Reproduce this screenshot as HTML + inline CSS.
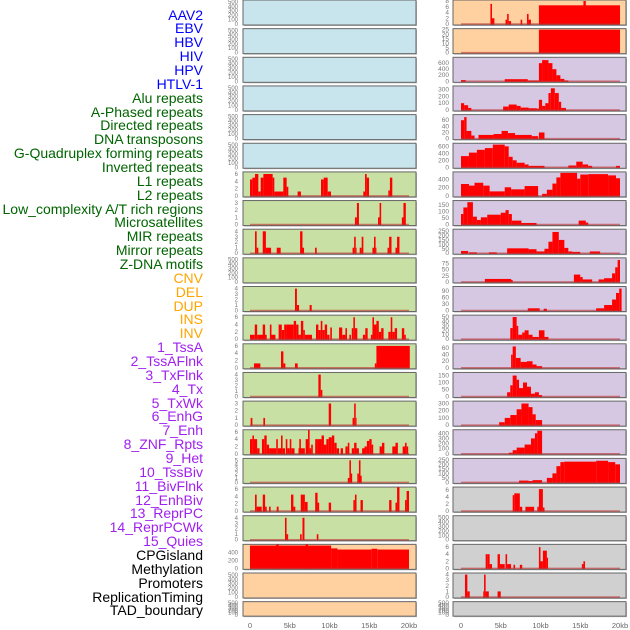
<!DOCTYPE html>
<html><head><meta charset="utf-8">
<style>
body{margin:0;background:#fff;width:630px;height:630px;overflow:hidden;font-family:"Liberation Sans",sans-serif}
#labels div{position:absolute;right:427px;font-size:14px;line-height:14px;white-space:nowrap}
</style></head>
<body>
<div id="labels"></div>
<svg id="chart" width="630" height="630" style="position:absolute;left:0;top:0"></svg>
<script>
const labelNames=["AAV2","EBV","HBV","HIV","HPV","HTLV-1","Alu repeats","A-Phased repeats","Directed repeats","DNA transposons","G-Quadruplex forming repeats","Inverted repeats","L1 repeats","L2 repeats","Low_complexity A/T rich regions","Microsatellites","MIR repeats","Mirror repeats","Z-DNA motifs","CNV","DEL","DUP","INS","INV","1_TssA","2_TssAFlnk","3_TxFlnk","4_Tx","5_TxWk","6_EnhG","7_Enh","8_ZNF_Rpts","9_Het","10_TssBiv","11_BivFlnk","12_EnhBiv","13_ReprPC","14_ReprPCWk","15_Quies","CPGisland","Methylation","Promoters","ReplicationTiming","TAD_boundary"];
const labelColors=[...Array(6).fill("#0000ff"),...Array(13).fill("#006400"),...Array(5).fill("#ffa500"),...Array(15).fill("#a020f0"),...Array(5).fill("#000")];
const xTickLabels=["0","5kb","10kb","15kb","20kb"];
const xTickValues=[0,5,10,15,20];

const leftBg=["b","b","b","b","b","b","g","g","g","g","g","g","g","g","g","g","g","g","g","o","o","o"];
const rightBg=["o","o","p","p","p","p","p","p","p","p","p","p","p","p","p","p","p","y","y","y","y","y"];
const leftYmax=[520,520,520,520,520,520,6.3,3.2,4.2,520,4.2,6.3,6.3,4.2,3.2,6.3,5.2,6.3,4.2,575,520,520];
const rightYmax=[8,25,760,340,75,660,560,175,260,95,105,52,70,165,320,450,255,6.5,520,6.5,4.1,520];
const leftTicks=[[0,100,200,300,400,500],[0,100,200,300,400,500],[0,100,200,300,400,500],[0,100,200,300,400,500],[0,100,200,300,400,500],[0,100,200,300,400,500],[0,2,4,6],[0,1,2,3],[0,1,2,3,4],[0,100,200,300,400,500],[0,1,2,3,4],[0,2,4,6],[0,2,4,6],[0,1,2,3,4],[0,1,2,3],[0,2,4,6],[0,1,2,3,4,5],[0,2,4,6],[0,1,2,3,4],[0,200,400],[0,100,200,300,400,500],[0,100,200,300,400,500]];
const rightTicks=[[0,2,4,6,8],[0,5,10,15,20,25],[0,200,400,600],[0,100,200,300],[0,20,40,60],[0,200,400,600],[0,200,400],[0,50,100,150],[0,50,100,150,200,250],[0,25,50,75],[0,30,60,90],[0,10,20,30,40,50],[0,20,40,60],[0,50,100,150],[0,100,200,300],[0,100,200,300,400],[0,50,100,150,200,250],[0,2,4,6],[0,100,200,300,400,500],[0,2,4,6],[0,1,2,3,4],[0,100,200,300,400,500]];

const leftSegs=[[],[],[],[],[],[],
[[0,0.29,4.5],[0.29,0.63,5],[0.63,1.05,6],[1.05,1.34,1.2],[1.34,1.68,5],[1.68,2.85,6],[2.85,3.06,5],[3.06,4.19,1.2],[4.19,4.61,5],[4.61,4.82,2.5],[5.99,6.41,1.2],[8.93,9.27,4.5],[9.27,9.77,5],[9.77,10.19,1.2],[14.25,14.47,1.2],[14.47,14.68,6],[14.68,14.97,5],[17.4,17.6,1.5],[17.6,17.9,5]],
[[13.2,13.45,1],[13.45,13.7,3],[16.1,16.3,1],[16.3,16.5,3],[19.1,19.3,1],[19.3,19.6,3]],
[[0.63,0.84,4],[0.84,1.05,1],[1.6,2.0,4],[2.0,2.65,1],[3.36,3.86,1],[6.3,6.6,4],[6.6,6.8,1],[8.18,8.39,1],[12.9,13.1,1],[13.1,13.3,3],[13.3,13.4,1],[13.8,14.05,1],[14.05,14.26,3],[15.4,15.6,1],[15.6,15.8,3],[15.8,15.9,1],[17.3,17.5,1],[17.5,17.8,3],[18.3,18.5,1],[18.5,18.8,3]],
[],
[[5.66,5.9,4],[5.9,6.17,1],[7.5,7.76,1]],
[[0,0.6,1.2],[0.6,0.9,4],[0.9,2.1,1.2],[1.6,1.9,4],[2.5,2.7,4],[2.7,3.2,1.2],[3.6,4.0,4],[4.0,4.3,2.5],[4.3,4.6,4],[4.6,5.5,4],[5.5,5.8,5],[5.8,6.1,4],[6.1,6.4,1.2],[6.4,6.7,5],[6.7,6.9,2.5],[6.9,7.8,1.2],[8.3,8.6,4],[8.6,8.9,2.5],[8.9,9.1,5],[9.1,9.4,2.5],[9.4,9.7,4],[9.7,10,1.2],[10.1,10.3,3.2],[11.2,11.6,3.2],[11.6,12,1.2],[12.0,12.2,3],[12.5,12.7,1.2],[12.8,13.0,3],[13.0,13.2,6],[13.2,13.5,3],[14.2,14.5,1.2],[14.5,14.8,3],[15.2,15.4,1.2],[15.4,15.6,6],[15.6,15.9,4],[15.9,16.2,5],[16.2,16.5,2],[16.5,16.8,3],[17.4,17.7,2],[17.7,17.9,6],[17.9,18.2,2],[18.2,18.5,3],[19.1,19.4,3],[19.4,19.6,1.2]],
[[0.5,1.3,1.2],[3.9,4.2,4.5],[4.2,4.45,1.2],[5.66,6.0,1.2],[15.7,15.9,1.2],[15.9,20.1,6]],
[[8.6,8.9,4],[8.9,9.1,1.2]],
[[0.08,0.3,1],[1.68,1.89,1],[9.9,10.2,3],[12.9,13.1,1],[13.1,13.3,3],[13.3,13.4,1]],
[[0,0.3,4],[0.3,0.5,5],[0.5,0.9,4],[0.9,1.2,1.5],[1.5,1.8,4],[1.8,2.1,5],[2.1,2.4,2.5],[2.4,3.3,1.5],[3.3,3.5,4],[3.5,3.9,1.5],[3.9,4.1,5],[4.1,4.4,1.5],[4.5,4.7,4],[4.7,5.0,1.5],[5.0,5.2,4],[5.2,5.6,1.5],[6.1,6.9,1.5],[6.2,6.4,4],[7.0,7.3,4],[7.3,7.5,7],[7.5,7.7,1.5],[7.7,7.9,2.5],[8.2,8.5,4],[8.5,9.0,4],[9.0,9.3,5],[9.3,9.6,2.5],[9.6,9.9,4],[9.9,10.3,4.5],[10.3,10.6,5],[10.6,10.9,3],[10.9,11.2,1.5],[11.4,11.7,1.5],[12.0,12.3,2],[12.3,12.5,3],[12.8,13.1,1.5],[13.1,13.4,3],[13.4,13.7,1.5],[14.1,14.4,1.5],[14.4,14.7,2],[14.7,15.0,3.5],[15.0,15.3,4],[15.3,15.5,2.5],[16.3,16.6,2],[16.6,16.9,3],[17.9,18.3,2],[18.3,18.6,3],[19.2,19.5,2],[19.5,19.7,3],[19.7,19.9,2]],
[[12.3,12.5,1],[12.5,12.7,5],[12.7,12.85,2],[13.5,13.7,2],[13.7,13.9,5],[13.9,14.05,1.5]],
[[0.63,0.84,4.5],[0.84,1.47,1.2],[1.6,1.9,4.5],[1.9,2.1,1.2],[2.4,2.6,1.2],[3.36,3.6,1.2],[5.16,5.46,4.5],[5.46,5.7,1.2],[6.38,6.6,4.5],[6.6,6.9,4.5],[6.9,7.25,2.5],[8.2,8.5,5],[8.5,8.7,2.3],[9.9,10.2,2.3],[13.0,13.2,3],[13.2,13.4,4.5],[13.9,14.2,3],[17.5,17.8,3],[18.3,18.5,2.3],[18.5,18.8,6.5],[19.5,19.7,3],[19.7,20,5.5]],
[[4.4,4.6,4],[4.6,4.8,1],[6.3,6.5,1],[6.6,6.85,4],[8.4,8.6,1]],
[[0,10.2,570],[10.2,11,500],[11,15.3,470],[15.3,16,490],[16,20,470],[3.3,3.6,600],[7,7.3,600]],
[],[]];

const rightSegs=[
[[3.7,3.9,7],[3.9,4.2,2],[5.6,5.8,1.5],[5.8,6.0,3.5],[6.0,6.3,1],[7.5,7.7,1.5],[8.3,8.5,3.5],[8.5,8.8,1.5],[9.8,20,6.5],[15.4,15.7,8]],
[[9.8,20,25]],
[[0,0.6,40],[5.5,8.4,70],[8.4,9.8,30],[9.8,10.2,600],[10.2,11,700],[11,11.5,600],[11.5,12,400],[12,12.5,200],[12.5,13,80],[13,13.5,30]],
[[0,0.4,100],[0.4,0.9,70],[0.9,1.3,30],[5.3,6,50],[6,7,80],[7,7.5,60],[7.5,8.5,35],[8.5,9.5,25],[9.5,9.8,20],[9.8,10.2,150],[10.2,10.6,60],[10.6,11,100],[11,11.3,250],[11.3,11.8,320],[11.8,12.3,250],[12.3,12.6,120],[12.6,13.2,30]],
[[0,0.4,60],[0.4,0.7,70],[0.7,1.3,25],[1.3,1.7,10],[2.2,4.1,12],[4.1,5.1,15],[5.1,5.9,25],[5.9,6.8,18],[6.8,8.9,12],[8.9,9.7,8],[9.8,10.5,20]],
[[0,1,320],[1,2,420],[2,3,500],[3,4,550],[4,5.5,650],[5.5,6,600],[6,6.5,300],[6.5,7,200],[7,8,130],[8,8.5,80],[8.5,10.5,40],[13.5,14.5,50],[14.5,15.3,160],[15.3,16,80],[16,16.5,40],[19.5,20,40]],
[[0,1,290],[1,1.7,250],[1.7,2.8,320],[2.8,3.6,250],[3.6,5.5,110],[5.5,6.3,210],[6.3,8,160],[8,9.7,240],[10.2,10.8,50],[10.8,11.5,150],[11.5,12,300],[12,12.5,450],[12.5,14.6,560],[14.6,15,420],[15,16,520],[16,18.5,530],[18.5,19.5,500],[19.5,20,430]],
[[0,0.3,80],[0.3,0.8,130],[0.8,1.5,170],[1.5,2,60],[2,2.5,35],[2.5,3.3,55],[3.3,5,75],[5,5.6,90],[5.6,6,110],[6,6.4,80],[6.4,7.6,30],[7.6,9.5,12],[14.8,15.7,30],[15.7,16,15]],
[[0,0.9,25],[1,2,10],[3.5,4.5,10],[5.8,8.5,55],[8.5,9.5,45],[9.5,10.5,20],[10.5,11,50],[11,11.5,130],[11.5,12.3,240],[12.3,13,150],[13,13.5,60],[13.5,14,20],[14,15,15],[16.2,17.5,20]],
[[3,6.3,12],[6.3,6.5,8],[14.2,15,30],[15,15.3,20],[15.3,16.5,10],[17.3,18,10],[18,19,15],[19,19.4,35],[19.4,19.7,60],[19.7,20,90]],
[[8.4,9.9,10],[10.4,10.8,8],[17,18,10],[18,19,25],[19,19.5,50],[19.5,19.9,80],[19.9,20.2,100]],
[[6.2,6.5,25],[6.5,7.0,50],[7,7.2,30],[7.2,7.7,10],[7.7,8,15],[8,8.5,20],[8.5,9,10],[9,9.8,5],[9.8,10.5,20],[10.5,11,5]],
[[6.3,6.5,40],[6.5,6.9,65],[6.9,7.5,30],[7.5,8.3,18],[8.3,9,20],[9,9.5,10],[9.5,10.2,5]],
[[5.8,6.2,30],[6.2,6.5,80],[6.5,7,150],[7,7.3,120],[7.3,7.8,60],[7.8,8.3,100],[8.3,8.8,70],[8.8,9.3,20],[9.3,9.8,30],[9.8,10.2,10]],
[[4.8,5.5,40],[5.5,6.2,100],[6.2,7,140],[7,7.6,220],[7.6,8.5,300],[8.5,9,250],[9,9.4,150],[9.4,10.2,70]],
[[6,6.5,20],[6.5,7,70],[7,8,120],[8,8.8,180],[8.8,9.3,300],[9.3,9.6,400],[9.6,10.2,450]],
[[7.3,8.5,20],[8.5,9,15],[9,10.2,25],[10.8,11.5,50],[11.5,12,100],[12,12.5,180],[12.5,13,225],[13,17,230],[17,18.5,240],[18.5,19.4,225],[19.4,20,200]],
[[6.5,6.7,4.5],[6.7,7.4,5],[7.4,7.7,1.2],[8.1,9.2,1.2],[9.6,9.8,1.2],[9.8,10.3,6.2],[10.3,10.5,1]],
[],
[[3.1,3.3,4],[3.3,3.6,4],[3.6,3.9,1.2],[4.6,4.9,4],[4.9,5.5,1.2],[5.6,5.8,4],[5.8,6.3,1.2],[6.6,6.8,1],[7.4,7.7,1],[9.8,10.0,6],[10.0,10.3,2],[10.3,10.8,5],[10.8,10.95,3],[15.2,15.4,1.2],[15.4,15.6,2]],
[[0.5,0.8,4],[0.8,1.1,1],[2.8,2.9,1],[2.9,3.1,4],[3.1,3.5,1],[4.6,5.0,1]],
[]];

const bgColor={b:"#c8e4ec",g:"#c8e0a4",o:"#ffd1a1",p:"#d6c7e3",y:"#d0d0d0"};
const NS="http://www.w3.org/2000/svg";
const svg=document.getElementById("chart");
function el(tag,attrs,parent){const e=document.createElementNS(NS,tag);for(const k in attrs)e.setAttribute(k,attrs[k]);(parent||svg).appendChild(e);return e;}

// labels
const lab=document.getElementById("labels");
labelNames.forEach((t,i)=>{const d=document.createElement("div");d.textContent=t;d.style.color=labelColors[i];d.style.top=(15+i*13.86-7.5)+"px";


lab.appendChild(d);});

function drawColumn(px0,px1,zeroPx,segsArr,ymaxArr,ticksArr,bgArr,tickX,tickSize){
  const xs=kb=>zeroPx+kb*7.95;
  for(let i=0;i<22;i++){
    const top=i*28.65, h=(i==21?14.5:25);
    const g=el("g",{});
    
    
    el("rect",{x:px0+1,y:top+1,width:px1-px0,height:h,fill:"#bbb"},g);
    el("rect",{x:px0,y:top,width:px1-px0,height:h,fill:bgColor[bgArr[i]],stroke:"#666","stroke-width":1},g);
    const bot=top+h-1, ph=h-2, ymax=ymaxArr[i];
    const ys=v=>bot-Math.min(v/ymax,1.04)*ph;
    const cp="clip"+px0+"_"+i;
    const cl=el("clipPath",{id:cp},g);el("rect",{x:px0,y:top,width:px1-px0,height:h},cl);
    const mg=el("g",{"clip-path":"url(#"+cp+")"},g);
    segsArr[i].forEach(s=>{const y=ys(s[2]);
      const r=el("rect",{x:xs(s[0]),y:y,width:Math.max(0.8,xs(s[1])-xs(s[0])),height:bot-y+0.5,fill:"#ff0000"},mg);
      
      });
    if(segsArr[i].length){const b=el("line",{x1:xs(0),x2:xs(20),y1:bot,y2:bot,stroke:"#c03030","stroke-width":1.5,opacity:0.6},mg);
      
      }
    ticksArr[i].forEach(t=>{const tt=el("text",{x:tickX,y:ys(t)+2,"text-anchor":"end","font-size":tickSize,fill:"#777"},g);tt.textContent=t;
      
      });
  }
  xTickValues.forEach((v,j)=>{const t=el("text",{x:xs(v),y:628,"text-anchor":"middle","font-size":7.5,fill:"#666"});t.textContent=xTickLabels[j];
    
    });
}
drawColumn(243,416,250,leftSegs,leftYmax,leftTicks,leftBg,238,6);
drawColumn(453,626,461,rightSegs,rightYmax,rightTicks,rightBg,449,6.5);
</script>
</body></html>
